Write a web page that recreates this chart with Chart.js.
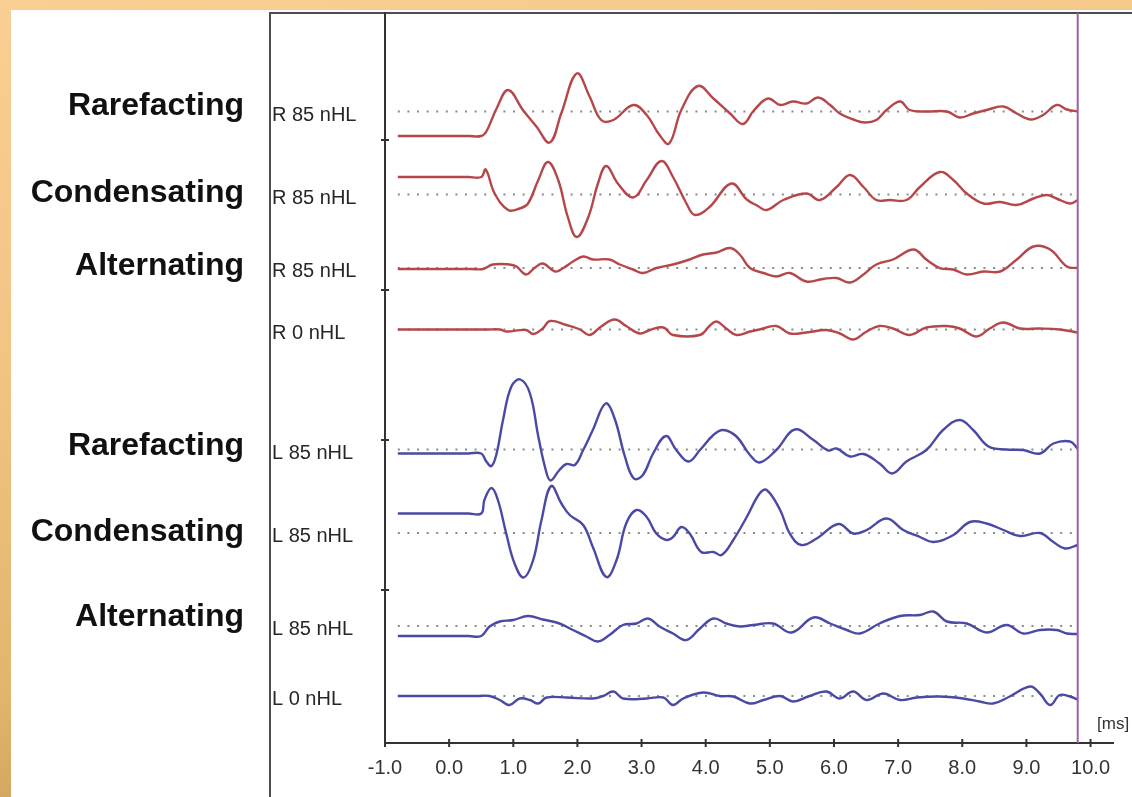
<!DOCTYPE html>
<html>
<head>
<meta charset="utf-8">
<script src="https://cdn.jsdelivr.net/npm/chart.js@4.4.1/dist/chart.umd.min.js"></script>
<style>
  html, body { margin: 0; padding: 0; }
  body {
    width: 1132px; height: 797px; overflow: hidden; position: relative;
    background: linear-gradient(170deg, #f9cf93 0%, #f1c584 35%, #e2b56c 70%, #b98f4a 100%);
  }
  #sheet { position: absolute; left: 11px; top: 10px; width: 1121px; height: 787px; background: #fff; }
  #abr { position: absolute; left: 0; top: 0; }
</style>
</head>
<body>
<div id="sheet"></div>
<canvas id="abr" width="1132" height="797"></canvas>
<script>
// ABR recordings, amplitude relative to each trace's own baseline.
// Each entry: [latency (ms), amplitude]
const rRarefacting = [[-0.8,-2.45],[0.30,-2.45],[0.50,-2.45],[0.58,-2.0],[0.74,0.3],[0.92,2.15],[1.15,0.15],[1.36,-1.5],[1.57,-3.1],[1.75,-0.15],[1.99,3.8],[2.19,1.5],[2.37,-0.85],[2.56,-0.85],[2.87,0.65],[3.08,-0.35],[3.28,-2.35],[3.43,-3.2],[3.62,0.15],[3.88,2.55],[4.12,1.3],[4.38,-0.2],[4.58,-1.25],[4.75,0.1],[4.97,1.3],[5.16,0.65],[5.36,1.0],[5.57,0.8],[5.75,1.4],[5.94,0.65],[6.09,-0.2],[6.30,-0.8],[6.48,-1.1],[6.66,-0.85],[6.82,0.15],[7.03,1.0],[7.18,0.15],[7.44,0],[7.76,0],[7.96,-0.6],[8.17,-0.2],[8.38,0.15],[8.64,0.5],[8.85,-0.2],[9.06,-0.8],[9.26,-0.35],[9.47,0.65],[9.63,0.2],[9.8,0]];
const rCondensating = [[-0.8,1.75],[0.30,1.75],[0.50,1.75],[0.57,2.5],[0.71,0.1],[0.92,-1.55],[1.10,-1.4],[1.23,-0.9],[1.39,1.45],[1.54,3.25],[1.70,1.45],[1.85,-2.25],[1.99,-4.25],[2.17,-2.25],[2.32,1.1],[2.45,2.85],[2.63,1.1],[2.87,-0.3],[3.08,1.45],[3.31,3.35],[3.49,1.75],[3.70,-0.9],[3.83,-2.05],[4.06,-1.25],[4.40,1.1],[4.64,-0.5],[4.80,-1.1],[4.95,-1.55],[5.21,-0.55],[5.57,0.1],[5.78,-0.55],[6.04,0.75],[6.25,1.95],[6.46,0.75],[6.66,-0.55],[6.87,-0.55],[7.13,-0.55],[7.34,0.75],[7.65,2.25],[7.86,1.45],[8.07,0.1],[8.33,-0.9],[8.59,-0.75],[8.85,-1.05],[9.11,-0.4],[9.32,-0.05],[9.47,-0.4],[9.68,-0.9],[9.8,-0.55]];
const rAlternating = [[-0.8,-0.1],[0.35,-0.1],[0.53,-0.1],[0.68,0.35],[0.94,0.35],[1.05,0.15],[1.20,-0.65],[1.33,0],[1.46,0.45],[1.65,-0.35],[1.78,0],[1.93,0.65],[2.09,1.15],[2.24,0.85],[2.50,0.85],[2.66,0.35],[2.87,-0.15],[3.02,-0.5],[3.23,0],[3.49,0.35],[3.75,0.85],[3.96,1.35],[4.17,1.55],[4.38,2.0],[4.53,1.35],[4.69,0],[4.90,-0.5],[5.10,-0.85],[5.31,-0.5],[5.57,-1.35],[5.83,-1.1],[6.04,-1.0],[6.25,-1.45],[6.46,-0.65],[6.66,0.35],[6.92,0.85],[7.24,1.85],[7.44,0.85],[7.65,0],[7.86,-0.15],[8.07,-0.65],[8.33,-0.35],[8.59,-0.35],[8.85,0.85],[9.11,2.15],[9.37,1.85],[9.63,0.15],[9.8,0]];
const rNoStimulus = [[-0.8,0],[0.60,0],[0.79,0],[0.89,-0.2],[1.20,-0.05],[1.31,-0.45],[1.46,0.1],[1.57,0.85],[1.83,0.45],[2.04,0],[2.19,-0.55],[2.37,0.3],[2.58,1.0],[2.76,0.35],[2.97,-0.4],[3.13,-0.05],[3.34,0.2],[3.49,-0.55],[3.91,-0.55],[4.06,0.35],[4.17,0.8],[4.32,0.1],[4.48,-0.55],[4.69,-0.2],[4.84,0],[5.10,0.35],[5.31,-0.4],[5.57,-0.3],[5.88,-0.05],[6.09,-0.4],[6.30,-1.0],[6.51,-0.2],[6.71,0.35],[6.92,0.1],[7.18,-0.55],[7.44,0.2],[7.76,0.35],[7.96,0.1],[8.22,-0.7],[8.43,0.1],[8.64,0.7],[8.90,0.1],[9.21,0.1],[9.52,0],[9.8,-0.3]];
const lRarefacting = [[-0.8,-0.4],[0.30,-0.4],[0.50,-0.4],[0.58,-1.2],[0.66,-1.65],[0.74,-0.4],[0.84,2.95],[0.97,6.3],[1.11,7.0],[1.26,5.6],[1.39,1.3],[1.50,-1.9],[1.58,-3.1],[1.72,-2.05],[1.83,-1.45],[1.96,-1.55],[2.09,-0.05],[2.24,1.95],[2.44,4.6],[2.58,3.1],[2.74,-0.7],[2.88,-2.9],[3.02,-2.55],[3.18,-0.4],[3.38,1.35],[3.54,-0.05],[3.73,-1.2],[3.91,-0.05],[4.12,1.45],[4.27,1.95],[4.48,1.3],[4.69,-0.55],[4.84,-1.3],[5.10,-0.05],[5.39,2.0],[5.68,0.95],[5.91,-0.1],[6.04,0.1],[6.25,-0.7],[6.46,-0.45],[6.71,-1.4],[6.91,-2.4],[7.13,-1.2],[7.44,-0.05],[7.70,1.95],[7.96,2.95],[8.17,1.95],[8.41,0.3],[8.69,0],[8.95,-0.05],[9.21,-0.4],[9.42,0.6],[9.68,0.8],[9.8,0.1]];
const lCondensating = [[-0.8,1.95],[0.30,1.95],[0.50,1.95],[0.55,3.3],[0.66,4.5],[0.76,3.3],[0.89,-0.05],[1.02,-3.05],[1.16,-4.45],[1.31,-2.7],[1.44,1.3],[1.59,4.7],[1.75,2.95],[1.88,1.8],[2.09,0.8],[2.24,-1.4],[2.45,-4.4],[2.61,-2.7],[2.76,0.95],[2.92,2.3],[3.08,1.6],[3.23,-0.05],[3.39,-0.7],[3.49,-0.4],[3.62,0.6],[3.75,-0.05],[3.93,-1.9],[4.12,-1.9],[4.25,-2.2],[4.43,-0.7],[4.64,1.6],[4.84,3.95],[4.95,4.3],[5.16,2.3],[5.31,-0.05],[5.49,-1.2],[5.73,-0.55],[6.07,0.9],[6.30,-0.05],[6.51,0.3],[6.82,1.45],[7.08,0.3],[7.34,-0.4],[7.55,-0.9],[7.86,-0.2],[8.12,1.1],[8.38,0.95],[8.64,0.3],[8.90,-0.3],[9.21,0],[9.42,-0.9],[9.60,-1.55],[9.8,-1.2]];
const lAlternating = [[-0.8,-1.0],[0.30,-1.0],[0.50,-1.0],[0.63,-0.05],[0.79,0.45],[1.0,0.6],[1.23,1.0],[1.46,0.65],[1.72,0.25],[1.93,-0.4],[2.14,-1.05],[2.32,-1.55],[2.50,-0.9],[2.71,0.1],[2.92,0.25],[3.10,0.75],[3.28,-0.05],[3.49,-0.75],[3.70,-1.4],[3.91,-0.25],[4.12,0.75],[4.32,0.25],[4.53,-0.05],[4.74,0.1],[5.05,0.25],[5.34,-0.65],[5.68,0.85],[5.94,0.25],[6.20,-0.4],[6.40,-0.75],[6.71,0.25],[7.03,1.0],[7.34,1.1],[7.55,1.45],[7.76,0.45],[8.07,0.25],[8.38,-0.65],[8.69,0.1],[8.95,-0.75],[9.21,-0.4],[9.47,-0.4],[9.63,-0.75],[9.8,-0.8]];
const lNoStimulus = [[-0.8,0],[0.45,0],[0.63,0],[0.79,-0.4],[0.94,-0.9],[1.10,-0.25],[1.26,-0.4],[1.39,-0.75],[1.52,-0.15],[1.83,-0.15],[2.24,-0.25],[2.40,0],[2.56,0.45],[2.71,-0.25],[3.08,-0.25],[3.34,-0.15],[3.49,-0.9],[3.65,-0.25],[3.96,0.35],[4.22,0],[4.43,-0.05],[4.69,-0.75],[4.90,-0.4],[5.16,0],[5.36,-0.55],[5.62,0],[5.88,0.45],[6.09,-0.25],[6.30,0.45],[6.51,-0.4],[6.77,0.25],[7.03,-0.4],[7.29,-0.15],[7.65,-0.05],[8.01,-0.25],[8.27,-0.55],[8.48,-0.75],[8.74,-0.05],[9.06,0.95],[9.21,0.25],[9.37,-0.9],[9.52,0.1],[9.68,-0.05],[9.8,-0.35]];

const traces = [rRarefacting, rCondensating, rAlternating, rNoStimulus,
                lRarefacting, lCondensating, lAlternating, lNoStimulus];
const traceLabels = ['R 85 nHL', 'R 85 nHL', 'R 85 nHL', 'R 0 nHL',
                     'L 85 nHL', 'L 85 nHL', 'L 85 nHL', 'L 0 nHL'];
const polarityLabels = ['Rarefacting', 'Condensating', 'Alternating',
                        'Rarefacting', 'Condensating', 'Alternating'];
const xTickValues = [-1, 0, 1, 2, 3, 4, 5, 6, 7, 8, 9, 10];
const yTickValues = [15, 30, 45, 60];
const sweepStart = -0.8;   // ms
const sweepEnd = 9.8;      // ms, end-of-window cursor

// Layout of the stacked display (vertical offset of each trace baseline)
const traceLevels = [62.85, 54.55, 47.2, 41.05, 29.05, 20.7, 11.4, 4.4];
const polarityBaselinePx = [115, 202, 275, 455, 541, 626];
const earColor = ['#b5474a', '#b5474a', '#b5474a', '#b5474a', '#4a4aa4', '#4a4aa4', '#4a4aa4', '#4a4aa4'];

const datasets = [];
traceLevels.forEach((lv) => {
  datasets.push({
    data: [{ x: sweepStart, y: lv }, { x: sweepEnd, y: lv }],
    borderColor: '#8a8a8a', borderWidth: 2, borderDash: [2, 7.6],
    pointRadius: 0, order: 3
  });
});
traces.forEach((tr, i) => {
  datasets.push({
    data: tr.map(([t, v]) => ({ x: t, y: traceLevels[i] + v })),
    borderColor: earColor[i], borderWidth: 2.4,
    tension: 0.4, pointRadius: 0, order: 2
  });
});
datasets.push({
  data: [{ x: sweepEnd, y: -0.3 }, { x: sweepEnd, y: 72.7 }],
  borderColor: '#9b62a2', borderWidth: 2, pointRadius: 0, order: 1
});

const sansFont = '"Liberation Sans", Arial, sans-serif';

const decor = {
  id: 'decor',
  beforeDraw(chart) {
    const { ctx } = chart;
    ctx.save();
    ctx.strokeStyle = '#4d4d4d';
    ctx.lineWidth = 2;
    ctx.beginPath();
    ctx.moveTo(270, 797); ctx.lineTo(270, 13); ctx.lineTo(1132, 13);
    ctx.stroke();
    ctx.restore();
  },
  afterDraw(chart) {
    const { ctx, scales: { x, y } } = chart;
    ctx.save();
    // tick marks crossing both axes
    ctx.strokeStyle = '#333';
    ctx.lineWidth = 2;
    x.ticks.forEach((t, i) => {
      const px = x.getPixelForTick(i);
      ctx.beginPath(); ctx.moveTo(px, y.bottom - 4); ctx.lineTo(px, y.bottom + 4); ctx.stroke();
    });
    y.ticks.forEach((t, i) => {
      const py = y.getPixelForTick(i);
      ctx.beginPath(); ctx.moveTo(x.left - 4, py); ctx.lineTo(x.left + 4, py); ctx.stroke();
    });
    // channel labels next to each trace
    ctx.fillStyle = '#262626';
    ctx.font = '20px ' + sansFont;
    ctx.textAlign = 'left';
    ctx.textBaseline = 'alphabetic';
    traceLevels.forEach((lv, i) => {
      ctx.fillText(traceLabels[i], 272, y.getPixelForValue(lv) + 9);
    });
    // stimulus polarity labels
    ctx.fillStyle = '#111';
    ctx.font = 'bold 32px ' + sansFont;
    ctx.textAlign = 'right';
    polarityLabels.forEach((s, i) => ctx.fillText(s, 244, polarityBaselinePx[i]));
    // time unit
    ctx.fillStyle = '#333';
    ctx.font = '17px ' + sansFont;
    ctx.textAlign = 'left';
    ctx.fillText('[ms]', 1097, 729);
    ctx.restore();
  }
};

new Chart(document.getElementById('abr'), {
  type: 'line',
  data: { datasets },
  plugins: [decor],
  options: {
    responsive: false,
    animation: false,
    events: [],
    layout: { padding: { left: 385, right: 19, top: 13, bottom: 0 } },
    plugins: { legend: { display: false }, tooltip: { enabled: false } },
    scales: {
      x: {
        type: 'linear', min: -1, max: 10.35,
        afterFit(s) { s.height = 54; },
        afterBuildTicks(s) { s.ticks = xTickValues.map(v => ({ value: v })); },
        grid: { display: false, drawTicks: false },
        border: { display: true, color: '#333', width: 2 },
        ticks: {
          padding: 13, maxRotation: 0, autoSkip: false,
          color: '#333', font: { family: sansFont, size: 20 },
          callback: v => v.toFixed(1)
        }
      },
      y: {
        type: 'linear', min: -0.3, max: 72.7,
        afterFit(s) { s.width = 0; },
        afterBuildTicks(s) { s.ticks = yTickValues.map(v => ({ value: v })); },
        grid: { display: false, drawTicks: false },
        border: { display: true, color: '#333', width: 2 },
        ticks: { display: false }
      }
    }
  }
});
</script>
</body>
</html>
